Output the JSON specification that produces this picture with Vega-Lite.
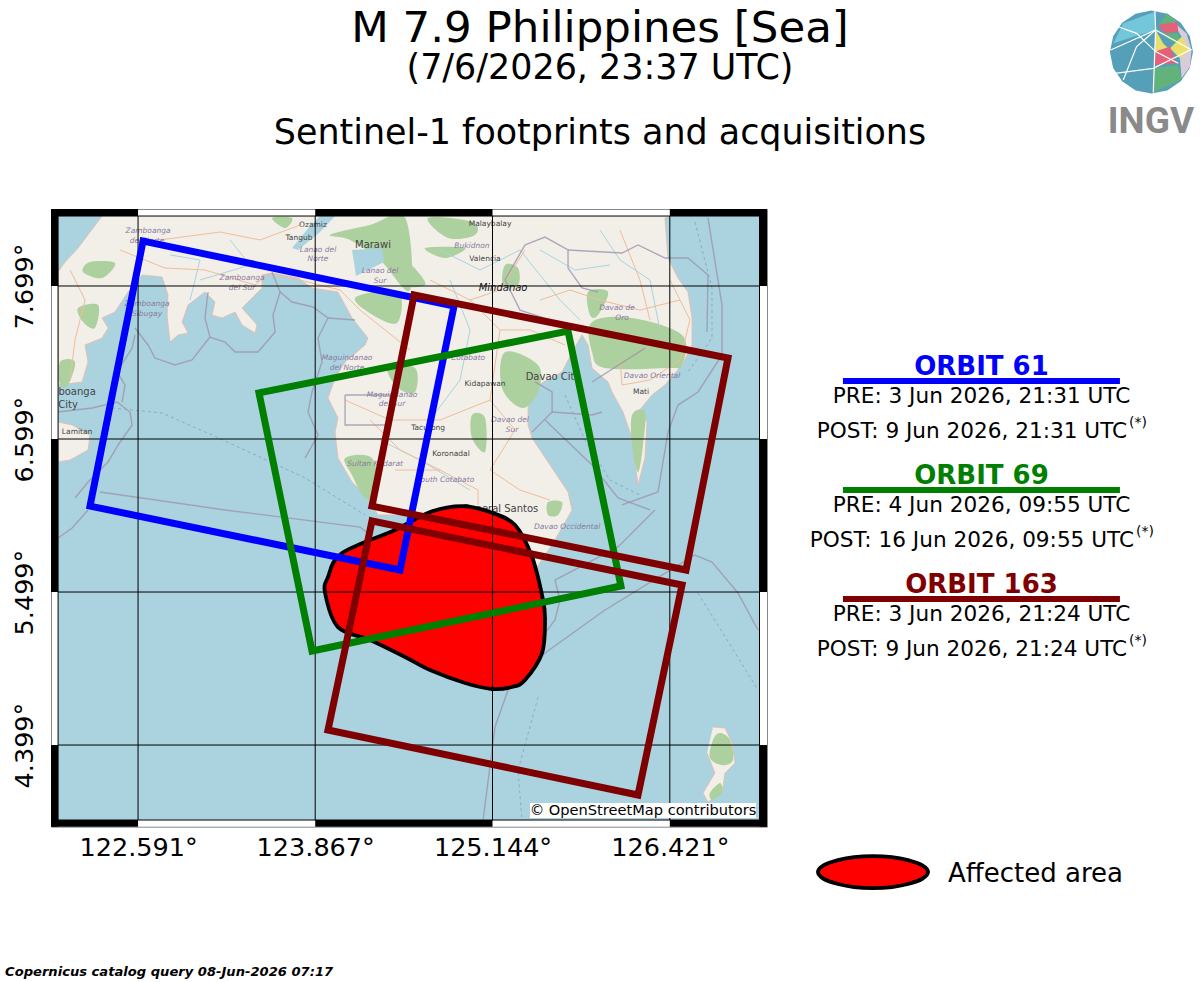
{
  "$schema": "https://vega.github.io/schema/vega-lite/v6.json",
  "autosize": {"type": "none"},
  "width": 716,
  "height": 617.7,
  "padding": {"left": 51, "top": 209, "right": 433, "bottom": 155.3},
  "background": "white",
  "view": {"stroke": "#888888", "strokeWidth": 1},
  "title": {
    "text": "M 7.9 Philippines [Sea]",
    "subtitle": ["(7/6/2026, 23:37 UTC)", "Sentinel-1 footprints and acquisitions"],
    "anchor": "middle",
    "frame": "group",
    "dx": 191,
    "offset": -144,
    "font": "DejaVu Sans",
    "fontSize": 43.5,
    "fontWeight": "normal",
    "color": "black",
    "subtitleFont": "DejaVu Sans",
    "subtitleFontSize": 34.9,
    "subtitleColor": "black",
    "subtitleLineHeight": 65,
    "subtitlePadding": 0
  },
  "datasets": {
    "sea": [{"lon": 122.015, "lon2": 127.067, "lat": 8.202, "lat2": 3.86}],
    "land": [
      {"g":"main","lon":122.332,"lat":8.202},{"g":"main","lon":122.159,"lat":7.972},{"g":"main","lon":122.065,"lat":7.872},{"g":"main","lon":122.015,"lat":7.8},{"g":"main","lon":122.015,"lat":6.987},{"g":"main","lon":122.188,"lat":7.009},{"g":"main","lon":122.231,"lat":7.153},{"g":"main","lon":122.209,"lat":7.275},{"g":"main","lon":122.332,"lat":7.325},{"g":"main","lon":122.375,"lat":7.397},{"g":"main","lon":122.332,"lat":7.469},{"g":"main","lon":122.425,"lat":7.512},{"g":"main","lon":122.519,"lat":7.656},{"g":"main","lon":122.62,"lat":7.778},{"g":"main","lon":122.764,"lat":7.764},{"g":"main","lon":122.807,"lat":7.634},{"g":"main","lon":122.8,"lat":7.49},{"g":"main","lon":122.821,"lat":7.296},{"g":"main","lon":122.879,"lat":7.347},{"g":"main","lon":122.951,"lat":7.361},{"g":"main","lon":122.908,"lat":7.44},{"g":"main","lon":122.951,"lat":7.562},{"g":"main","lon":123.073,"lat":7.656},{"g":"main","lon":123.145,"lat":7.584},{"g":"main","lon":123.124,"lat":7.49},{"g":"main","lon":123.196,"lat":7.469},{"g":"main","lon":123.29,"lat":7.512},{"g":"main","lon":123.34,"lat":7.419},{"g":"main","lon":123.434,"lat":7.361},{"g":"main","lon":123.448,"lat":7.419},{"g":"main","lon":123.34,"lat":7.541},{"g":"main","lon":123.484,"lat":7.685},{"g":"main","lon":123.484,"lat":7.778},{"g":"main","lon":123.556,"lat":7.792},{"g":"main","lon":123.743,"lat":7.756},{"g":"main","lon":123.844,"lat":7.685},{"g":"main","lon":124.031,"lat":7.656},{"g":"main","lon":124.132,"lat":7.469},{"g":"main","lon":124.247,"lat":7.325},{"g":"main","lon":124.226,"lat":7.275},{"g":"main","lon":124.082,"lat":7.153},{"g":"main","lon":124.01,"lat":7.038},{"g":"main","lon":123.959,"lat":6.894},{"g":"main","lon":124.031,"lat":6.75},{"g":"main","lon":124.01,"lat":6.649},{"g":"main","lon":124.031,"lat":6.462},{"g":"main","lon":124.132,"lat":6.29},{"g":"main","lon":124.247,"lat":6.175},{"g":"main","lon":124.319,"lat":6.053},{"g":"main","lon":124.694,"lat":6.053},{"g":"main","lon":124.982,"lat":6.089},{"g":"main","lon":125.198,"lat":5.945},{"g":"main","lon":125.342,"lat":5.765},{"g":"main","lon":125.465,"lat":5.679},{"g":"main","lon":125.594,"lat":5.873},{"g":"main","lon":125.717,"lat":6.089},{"g":"main","lon":125.688,"lat":6.218},{"g":"main","lon":125.544,"lat":6.434},{"g":"main","lon":125.429,"lat":6.606},{"g":"main","lon":125.4,"lat":6.7},{"g":"main","lon":125.4,"lat":6.843},{"g":"main","lon":125.472,"lat":6.987},{"g":"main","lon":125.645,"lat":7.081},{"g":"main","lon":125.717,"lat":7.224},{"g":"main","lon":125.789,"lat":7.347},{"g":"main","lon":125.832,"lat":7.275},{"g":"main","lon":125.861,"lat":7.109},{"g":"main","lon":125.976,"lat":7.009},{"g":"main","lon":126.005,"lat":6.937},{"g":"main","lon":126.084,"lat":6.793},{"g":"main","lon":126.149,"lat":6.606},{"g":"main","lon":126.192,"lat":6.268},{"g":"main","lon":126.242,"lat":6.462},{"g":"main","lon":126.257,"lat":6.721},{"g":"main","lon":126.192,"lat":6.793},{"g":"main","lon":126.293,"lat":6.915},{"g":"main","lon":126.386,"lat":6.987},{"g":"main","lon":126.509,"lat":7.131},{"g":"main","lon":126.581,"lat":7.275},{"g":"main","lon":126.581,"lat":7.469},{"g":"main","lon":126.552,"lat":7.656},{"g":"main","lon":126.48,"lat":7.756},{"g":"main","lon":126.408,"lat":7.9},{"g":"main","lon":126.386,"lat":8.188},{"g":"main","lon":126.437,"lat":8.202},
      {"g":"basilan","lon":122.015,"lat":6.721},{"g":"basilan","lon":122.116,"lat":6.7},{"g":"basilan","lon":122.245,"lat":6.628},{"g":"basilan","lon":122.231,"lat":6.52},{"g":"basilan","lon":122.101,"lat":6.448},{"g":"basilan","lon":122.015,"lat":6.434},
      {"g":"talaud","lon":126.732,"lat":4.529},{"g":"talaud","lon":126.819,"lat":4.521},{"g":"talaud","lon":126.869,"lat":4.414},{"g":"talaud","lon":126.891,"lat":4.27},{"g":"talaud","lon":126.819,"lat":4.198},{"g":"talaud","lon":126.797,"lat":4.054},{"g":"talaud","lon":126.696,"lat":3.989},{"g":"talaud","lon":126.66,"lat":4.054},{"g":"talaud","lon":126.746,"lat":4.198},{"g":"talaud","lon":126.689,"lat":4.342}
    ],
    "forest": [
      {"g":"f1","lon":122.245,"lat":7.872},{"g":"f1","lon":122.425,"lat":7.864},{"g":"f1","lon":122.332,"lat":7.756},{"g":"f1","lon":122.195,"lat":7.8},
      {"g":"f2","lon":122.159,"lat":7.541},{"g":"f2","lon":122.303,"lat":7.562},{"g":"f2","lon":122.281,"lat":7.397},{"g":"f2","lon":122.195,"lat":7.44},
      {"g":"f3","lon":122.029,"lat":7.153},{"g":"f3","lon":122.137,"lat":7.153},{"g":"f3","lon":122.087,"lat":6.987},{"g":"f3","lon":122.029,"lat":6.987},
      {"g":"f4","lon":123.974,"lat":8.066},{"g":"f4","lon":124.262,"lat":8.137},{"g":"f4","lon":124.514,"lat":8.19},{"g":"f4","lon":124.55,"lat":7.67},{"g":"f4","lon":124.334,"lat":7.886},{"g":"f4","lon":124.118,"lat":8.03},
      {"g":"f5","lon":124.154,"lat":7.613},{"g":"f5","lon":124.463,"lat":7.656},{"g":"f5","lon":124.463,"lat":7.44},{"g":"f5","lon":124.319,"lat":7.469},
      {"g":"f6","lon":123.556,"lat":8.188},{"g":"f6","lon":123.7,"lat":8.188},{"g":"f6","lon":123.65,"lat":8.116},
      {"g":"f7","lon":124.68,"lat":8.188},{"g":"f7","lon":124.996,"lat":8.159},{"g":"f7","lon":125.018,"lat":8.066},{"g":"f7","lon":124.824,"lat":8.044},
      {"g":"f8","lon":124.658,"lat":7.972},{"g":"f8","lon":124.946,"lat":7.972},{"g":"f8","lon":124.802,"lat":7.9},
      {"g":"f9","lon":124.514,"lat":7.872},{"g":"f9","lon":124.607,"lat":7.8},{"g":"f9","lon":124.658,"lat":7.706},{"g":"f9","lon":124.514,"lat":7.706},
      {"g":"f10","lon":125.234,"lat":7.85},{"g":"f10","lon":125.328,"lat":7.828},{"g":"f10","lon":125.328,"lat":7.706},{"g":"f10","lon":125.22,"lat":7.706},
      {"g":"f11","lon":125.832,"lat":7.656},{"g":"f11","lon":125.976,"lat":7.656},{"g":"f11","lon":125.904,"lat":7.49},{"g":"f11","lon":125.846,"lat":7.49},
      {"g":"f12","lon":125.861,"lat":7.44},{"g":"f12","lon":126.149,"lat":7.469},{"g":"f12","lon":126.509,"lat":7.347},{"g":"f12","lon":126.509,"lat":7.131},{"g":"f12","lon":126.408,"lat":7.109},{"g":"f12","lon":125.954,"lat":7.109},{"g":"f12","lon":125.861,"lat":7.224},
      {"g":"f13","lon":125.234,"lat":7.224},{"g":"f13","lon":125.472,"lat":7.131},{"g":"f13","lon":125.472,"lat":6.937},{"g":"f13","lon":125.356,"lat":6.822},{"g":"f13","lon":125.212,"lat":6.966},
      {"g":"f14","lon":126.149,"lat":6.772},{"g":"f14","lon":126.242,"lat":6.793},{"g":"f14","lon":126.228,"lat":6.556},{"g":"f14","lon":126.192,"lat":6.362},{"g":"f14","lon":126.149,"lat":6.556},
      {"g":"f15","lon":124.082,"lat":6.462},{"g":"f15","lon":124.276,"lat":6.462},{"g":"f15","lon":124.319,"lat":6.218},{"g":"f15","lon":124.226,"lat":6.175},{"g":"f15","lon":124.132,"lat":6.34},
      {"g":"f16","lon":124.996,"lat":6.772},{"g":"f16","lon":125.09,"lat":6.75},{"g":"f16","lon":125.09,"lat":6.506},{"g":"f16","lon":124.996,"lat":6.606},
      {"g":"f17","lon":125.544,"lat":6.146},{"g":"f17","lon":125.645,"lat":6.146},{"g":"f17","lon":125.616,"lat":6.053},{"g":"f17","lon":125.544,"lat":6.053},
      {"g":"f18","lon":124.391,"lat":7.109},{"g":"f18","lon":124.586,"lat":7.109},{"g":"f18","lon":124.586,"lat":6.937},{"g":"f18","lon":124.463,"lat":6.966},
      {"g":"f19","lon":126.782,"lat":4.485},{"g":"f19","lon":126.854,"lat":4.435},{"g":"f19","lon":126.876,"lat":4.291},{"g":"f19","lon":126.797,"lat":4.255},{"g":"f19","lon":126.71,"lat":4.306},{"g":"f19","lon":126.732,"lat":4.435},
      {"g":"f20","lon":126.782,"lat":4.126},{"g":"f20","lon":126.797,"lat":4.054},{"g":"f20","lon":126.725,"lat":4.004},{"g":"f20","lon":126.71,"lat":4.054}
    ],
    "water": [
      {"g":"lanao","lon":124.132,"lat":7.958},{"g":"lanao","lon":124.348,"lat":7.972},{"g":"lanao","lon":124.363,"lat":7.872},{"g":"lanao","lon":124.161,"lat":7.771},
      {"g":"panguil","lon":124.01,"lat":8.202},{"g":"panguil","lon":123.902,"lat":8.087},{"g":"panguil","lon":123.743,"lat":7.958},{"g":"panguil","lon":123.7,"lat":7.972},{"g":"panguil","lon":123.83,"lat":8.13},{"g":"panguil","lon":123.902,"lat":8.202}
    ],
    "river": [
      {"g":"r1","lon":124.838,"lat":7.742},{"g":"r1","lon":124.982,"lat":7.383},{"g":"r1","lon":124.91,"lat":7.023},{"g":"r1","lon":124.694,"lat":6.736},
      {"g":"r2","lon":125.486,"lat":7.958},{"g":"r2","lon":125.738,"lat":7.814},{"g":"r2","lon":125.99,"lat":7.85},
      {"g":"r3","lon":123.253,"lat":8.03},{"g":"r3","lon":123.398,"lat":7.85},{"g":"r3","lon":123.037,"lat":7.742},
      {"g":"r4","lon":124.766,"lat":7.958},{"g":"r4","lon":125.054,"lat":7.814},{"g":"r4","lon":125.342,"lat":7.958},{"g":"r4","lon":125.63,"lat":7.598},{"g":"r4","lon":125.774,"lat":7.455},
      {"g":"r5","lon":125.918,"lat":8.101},{"g":"r5","lon":126.062,"lat":7.886},{"g":"r5","lon":126.278,"lat":7.742},{"g":"r5","lon":126.35,"lat":7.383},
      {"g":"r6","lon":124.334,"lat":6.592},{"g":"r6","lon":124.622,"lat":6.448},{"g":"r6","lon":124.982,"lat":6.232},
      {"g":"r7","lon":122.821,"lat":7.922},{"g":"r7","lon":123.037,"lat":7.886},{"g":"r7","lon":122.966,"lat":7.598}
    ],
    "road": [
      {"g":"r1","lon":122.461,"lat":7.958},{"g":"r1","lon":122.785,"lat":7.828},{"g":"r1","lon":123.073,"lat":7.814},{"g":"r1","lon":123.434,"lat":7.706},{"g":"r1","lon":123.527,"lat":7.778},{"g":"r1","lon":123.758,"lat":7.742},{"g":"r1","lon":124.046,"lat":7.67},{"g":"r1","lon":124.19,"lat":7.526},{"g":"r1","lon":124.37,"lat":7.383},{"g":"r1","lon":124.55,"lat":7.239},
      {"g":"r2","lon":124.694,"lat":7.742},{"g":"r2","lon":124.982,"lat":7.598},{"g":"r2","lon":125.198,"lat":7.383},{"g":"r2","lon":125.414,"lat":7.383},{"g":"r2","lon":125.666,"lat":7.275},
      {"g":"r3","lon":125.198,"lat":7.383},{"g":"r3","lon":125.126,"lat":6.879},{"g":"r3","lon":125.306,"lat":6.664},{"g":"r3","lon":125.126,"lat":6.376},{"g":"r3","lon":125.342,"lat":6.232},{"g":"r3","lon":125.558,"lat":6.16},
      {"g":"r4","lon":124.082,"lat":6.879},{"g":"r4","lon":124.406,"lat":6.736},{"g":"r4","lon":124.766,"lat":6.736},{"g":"r4","lon":125.126,"lat":6.879},
      {"g":"r5","lon":124.442,"lat":6.376},{"g":"r5","lon":124.766,"lat":6.376},{"g":"r5","lon":125.04,"lat":6.232},{"g":"r5","lon":125.04,"lat":6.125},
      {"g":"r6","lon":122.101,"lat":7.814},{"g":"r6","lon":122.209,"lat":7.598},{"g":"r6","lon":122.137,"lat":7.311},{"g":"r6","lon":122.101,"lat":7.023},
      {"g":"r7","lon":122.749,"lat":8.03},{"g":"r7","lon":123.181,"lat":8.087},{"g":"r7","lon":123.47,"lat":8.03},{"g":"r7","lon":123.758,"lat":8.137},
      {"g":"r8","lon":126.062,"lat":7.167},{"g":"r8","lon":126.077,"lat":6.987},{"g":"r8","lon":126.278,"lat":7.023},{"g":"r8","lon":126.494,"lat":7.167},{"g":"r8","lon":126.566,"lat":7.455},{"g":"r8","lon":126.422,"lat":7.742},
      {"g":"r9","lon":125.378,"lat":7.958},{"g":"r9","lon":125.198,"lat":7.67},{"g":"r9","lon":124.982,"lat":7.598},
      {"g":"r10","lon":125.486,"lat":7.598},{"g":"r10","lon":125.702,"lat":7.67},{"g":"r10","lon":125.918,"lat":7.598},{"g":"r10","lon":126.206,"lat":7.526},{"g":"r10","lon":126.494,"lat":7.598},
      {"g":"r11","lon":124.262,"lat":6.736},{"g":"r11","lon":124.478,"lat":6.52},{"g":"r11","lon":124.766,"lat":6.376},
      {"g":"r12","lon":126.062,"lat":8.101},{"g":"r12","lon":126.206,"lat":7.742},{"g":"r12","lon":126.278,"lat":7.455}
    ],
    "boundary": [
      {"g":"b1","lon":122.317,"lat":6.218},{"g":"b1","lon":123.217,"lat":6.089},{"g":"b1","lon":124.19,"lat":5.966},{"g":"b1","lon":124.262,"lat":5.909},
      {"g":"b2","lon":122.569,"lat":7.397},{"g":"b2","lon":122.663,"lat":7.275},{"g":"b2","lon":122.713,"lat":7.181},{"g":"b2","lon":122.857,"lat":7.131},{"g":"b2","lon":122.98,"lat":7.167},{"g":"b2","lon":123.109,"lat":7.332},{"g":"b2","lon":123.073,"lat":7.469},{"g":"b2","lon":123.095,"lat":7.656},
      {"g":"b3","lon":123.109,"lat":7.332},{"g":"b3","lon":123.217,"lat":7.296},{"g":"b3","lon":123.29,"lat":7.224},{"g":"b3","lon":123.455,"lat":7.224},{"g":"b3","lon":123.578,"lat":7.368},{"g":"b3","lon":123.563,"lat":7.49},{"g":"b3","lon":123.614,"lat":7.656},{"g":"b3","lon":123.556,"lat":7.8},
      {"g":"b4","lon":123.614,"lat":7.656},{"g":"b4","lon":123.7,"lat":7.584},{"g":"b4","lon":123.851,"lat":7.548},{"g":"b4","lon":123.959,"lat":7.469},{"g":"b4","lon":123.887,"lat":7.325},{"g":"b4","lon":123.916,"lat":7.153},{"g":"b4","lon":123.844,"lat":6.937},{"g":"b4","lon":123.815,"lat":6.793},{"g":"b4","lon":123.887,"lat":6.628},{"g":"b4","lon":123.794,"lat":6.462},
      {"g":"b4b","lon":123.959,"lat":7.469},{"g":"b4b","lon":124.154,"lat":7.455},
      {"g":"b5","lon":122.015,"lat":6.793},{"g":"b5","lon":122.26,"lat":6.822},{"g":"b5","lon":122.44,"lat":6.865},{"g":"b5","lon":122.533,"lat":6.793},{"g":"b5","lon":122.548,"lat":6.7},{"g":"b5","lon":122.447,"lat":6.556},{"g":"b5","lon":122.375,"lat":6.434},{"g":"b5","lon":122.231,"lat":6.29},{"g":"b5","lon":122.137,"lat":6.175},
      {"g":"b6","lon":122.476,"lat":6.865},{"g":"b6","lon":122.497,"lat":6.987},{"g":"b6","lon":122.44,"lat":7.081},{"g":"b6","lon":122.548,"lat":7.253},{"g":"b6","lon":122.569,"lat":7.347},
      {"g":"b7","lon":122.231,"lat":6.089},{"g":"b7","lon":122.116,"lat":5.959},{"g":"b7","lon":122.015,"lat":5.887},
      {"g":"b8","lon":126.696,"lat":8.188},{"g":"b8","lon":126.797,"lat":7.562},{"g":"b8","lon":126.797,"lat":7.203},{"g":"b8","lon":126.624,"lat":6.937},{"g":"b8","lon":126.48,"lat":6.843},{"g":"b8","lon":126.408,"lat":6.649},{"g":"b8","lon":126.336,"lat":6.218},{"g":"b8","lon":126.077,"lat":6.125},
      {"g":"b9","lon":125.429,"lat":6.649},{"g":"b9","lon":125.573,"lat":6.793},{"g":"b9","lon":125.573,"lat":6.937},{"g":"b9","lon":125.45,"lat":7.009},
      {"g":"b10","lon":125.573,"lat":6.793},{"g":"b10","lon":125.861,"lat":6.772},{"g":"b10","lon":125.933,"lat":6.793},
      {"g":"b11","lon":125.522,"lat":6.736},{"g":"b11","lon":125.861,"lat":6.412},{"g":"b11","lon":126.048,"lat":6.175},{"g":"b11","lon":126.278,"lat":6.089},
      {"g":"b12","lon":126.314,"lat":6.089},{"g":"b12","lon":126.048,"lat":5.823},{"g":"b12","lon":125.594,"lat":5.585},{"g":"b12","lon":125.63,"lat":5.442},{"g":"b12","lon":125.594,"lat":5.298},{"g":"b12","lon":125.522,"lat":5.204},
      {"g":"b13","lon":126.509,"lat":5.708},{"g":"b13","lon":125.954,"lat":5.37},{"g":"b13","lon":125.522,"lat":5.061},{"g":"b13","lon":125.256,"lat":4.795},{"g":"b13","lon":125.162,"lat":4.529},{"g":"b13","lon":125.076,"lat":3.86},
      {"g":"b14","lon":126.509,"lat":5.708},{"g":"b14","lon":126.602,"lat":5.765},{"g":"b14","lon":126.725,"lat":5.715},{"g":"b14","lon":126.912,"lat":5.492},{"g":"b14","lon":127.056,"lat":5.226},
      {"g":"b15","lon":125.378,"lat":7.994},{"g":"b15","lon":125.522,"lat":8.051},{"g":"b15","lon":125.688,"lat":7.958},{"g":"b15","lon":125.688,"lat":7.828},{"g":"b15","lon":125.789,"lat":7.685},{"g":"b15","lon":125.904,"lat":7.656},
      {"g":"b16","lon":125.688,"lat":7.958},{"g":"b16","lon":126.077,"lat":7.936},{"g":"b16","lon":126.192,"lat":7.994},{"g":"b16","lon":126.386,"lat":7.9},{"g":"b16","lon":126.552,"lat":7.9},{"g":"b16","lon":126.696,"lat":7.778},{"g":"b16","lon":126.689,"lat":7.368},
      {"g":"b17","lon":125.378,"lat":7.994},{"g":"b17","lon":125.234,"lat":7.742},{"g":"b17","lon":125.342,"lat":7.526},{"g":"b17","lon":125.558,"lat":7.455},{"g":"b17","lon":125.738,"lat":7.419},
      {"g":"b18","lon":125.861,"lat":7.009},{"g":"b18","lon":126.242,"lat":7.253},
      {"g":"b19","lon":124.082,"lat":6.915},{"g":"b19","lon":124.406,"lat":6.915},{"g":"b19","lon":124.406,"lat":6.7},{"g":"b19","lon":124.082,"lat":6.7},{"g":"b19","lon":124.082,"lat":6.915}
    ],
    "dashed": [
      {"g":"d1","lon":122.404,"lat":6.822},{"g":"d1","lon":122.764,"lat":6.786},{"g":"d1","lon":123.124,"lat":6.628},{"g":"d1","lon":123.794,"lat":6.319},{"g":"d1","lon":124.226,"lat":6.053},
      {"g":"d2","lon":126.624,"lat":5.492},{"g":"d2","lon":127.056,"lat":4.795},
      {"g":"d3","lon":125.472,"lat":4.744},{"g":"d3","lon":125.328,"lat":4.219},{"g":"d3","lon":125.356,"lat":3.86},
      {"g":"d4","lon":126.602,"lat":8.159},{"g":"d4","lon":126.725,"lat":7.685},{"g":"d4","lon":126.725,"lat":7.325},{"g":"d4","lon":126.552,"lat":7.081},
      {"g":"d5","lon":125.666,"lat":6.915},{"g":"d5","lon":125.81,"lat":6.592},{"g":"d5","lon":125.99,"lat":6.304},{"g":"d5","lon":126.206,"lat":6.196}
    ],
    "labels": [
      {"kind":"admin","name":"Zamboanga","lon":122.663,"lat":8.094},{"kind":"admin","name":"del Norte","lon":122.656,"lat":8.022},
      {"kind":"place","name":"Ozamiz","lon":123.851,"lat":8.137},{"kind":"place","name":"Tangub","lon":123.75,"lat":8.044},
      {"kind":"admin","name":"Lanao del","lon":123.887,"lat":7.958},{"kind":"admin","name":"Norte","lon":123.887,"lat":7.893},
      {"kind":"city","name":"Marawi","lon":124.283,"lat":7.994},
      {"kind":"admin","name":"Lanao del","lon":124.334,"lat":7.807},{"kind":"admin","name":"Sur","lon":124.334,"lat":7.735},
      {"kind":"admin","name":"Zamboanga","lon":123.34,"lat":7.756},{"kind":"admin","name":"del Sur","lon":123.34,"lat":7.685},
      {"kind":"admin","name":"Zamboanga","lon":122.656,"lat":7.57},{"kind":"admin","name":"Sibugay","lon":122.656,"lat":7.498},
      {"kind":"city","name":"boanga","lon":122.152,"lat":6.937},{"kind":"city","name":"City","lon":122.087,"lat":6.843},
      {"kind":"place","name":"Lamitan","lon":122.152,"lat":6.649},
      {"kind":"admin","name":"Maguindanao","lon":124.096,"lat":7.181},{"kind":"admin","name":"del Norte","lon":124.096,"lat":7.109},
      {"kind":"admin","name":"Maguindanao","lon":124.42,"lat":6.915},{"kind":"admin","name":"del Sur","lon":124.42,"lat":6.851},
      {"kind":"admin","name":"Sultan Kudarat","lon":124.298,"lat":6.419},
      {"kind":"place","name":"Malaybalay","lon":125.126,"lat":8.145},{"kind":"admin","name":"Bukidnon","lon":124.996,"lat":7.986},{"kind":"place","name":"Valencia","lon":125.09,"lat":7.893},
      {"kind":"region","name":"Mindanao","lon":125.22,"lat":7.685},
      {"kind":"admin","name":"Davao de","lon":126.041,"lat":7.541},{"kind":"admin","name":"Oro","lon":126.077,"lat":7.469},
      {"kind":"admin","name":"Cotabato","lon":124.968,"lat":7.181},{"kind":"place","name":"Kidapawan","lon":125.09,"lat":6.994},
      {"kind":"city","name":"Davao City","lon":125.58,"lat":7.045},
      {"kind":"admin","name":"Davao Oriental","lon":126.293,"lat":7.052},{"kind":"place","name":"Mati","lon":126.214,"lat":6.937},
      {"kind":"admin","name":"Davao del","lon":125.27,"lat":6.736},{"kind":"admin","name":"Sur","lon":125.284,"lat":6.664},
      {"kind":"place","name":"Tacurong","lon":124.68,"lat":6.678},{"kind":"place","name":"Koronadal","lon":124.845,"lat":6.491},
      {"kind":"admin","name":"South Cotabato","lon":124.802,"lat":6.304},
      {"kind":"city","name":"General Santos","lon":125.198,"lat":6.096},
      {"kind":"admin","name":"Davao Occidental","lon":125.681,"lat":5.966}
    ],
    "affected": [
      {"g":"area","lon":124.924,"lat":6.117},{"g":"area","lon":125.126,"lat":6.074},{"g":"area","lon":125.306,"lat":5.981},{"g":"area","lon":125.429,"lat":5.751},{"g":"area","lon":125.508,"lat":5.442},{"g":"area","lon":125.522,"lat":5.298},{"g":"area","lon":125.501,"lat":5.061},{"g":"area","lon":125.378,"lat":4.866},{"g":"area","lon":125.284,"lat":4.816},{"g":"area","lon":125.14,"lat":4.802},{"g":"area","lon":124.946,"lat":4.845},{"g":"area","lon":124.694,"lat":4.938},{"g":"area","lon":124.514,"lat":5.032},{"g":"area","lon":124.262,"lat":5.154},{"g":"area","lon":124.031,"lat":5.247},{"g":"area","lon":123.938,"lat":5.492},{"g":"area","lon":123.959,"lat":5.607},{"g":"area","lon":124.06,"lat":5.779},{"g":"area","lon":124.442,"lat":5.945},{"g":"area","lon":124.694,"lat":6.074},
      {"g":"key","lon":128.281,"lat":3.486},{"g":"key","lon":128.237,"lat":3.436},{"g":"key","lon":128.136,"lat":3.4},{"g":"key","lon":128.021,"lat":3.378},{"g":"key","lon":127.884,"lat":3.371},{"g":"key","lon":127.748,"lat":3.378},{"g":"key","lon":127.632,"lat":3.4},{"g":"key","lon":127.531,"lat":3.436},{"g":"key","lon":127.488,"lat":3.486},{"g":"key","lon":127.531,"lat":3.536},{"g":"key","lon":127.632,"lat":3.572},{"g":"key","lon":127.748,"lat":3.594},{"g":"key","lon":127.884,"lat":3.601},{"g":"key","lon":128.021,"lat":3.594},{"g":"key","lon":128.136,"lat":3.572},{"g":"key","lon":128.237,"lat":3.536}
    ],
    "grid_lon": [
      {"lon":122.591,"lat":8.202,"lat2":3.86},{"lon":123.867,"lat":8.202,"lat2":3.86},{"lon":125.144,"lat":8.202,"lat2":3.86},{"lon":126.421,"lat":8.202,"lat2":3.86}
    ],
    "grid_lat": [
      {"lat":7.699,"lon":122.015,"lon2":127.067},{"lat":6.599,"lon":122.015,"lon2":127.067},{"lat":5.499,"lon":122.015,"lon2":127.067},{"lat":4.399,"lon":122.015,"lon2":127.067}
    ],
    "footprints": [
      {"frame":"61","orbit":"ORBIT 61","lon":122.627,"lat":8.022},{"frame":"61","orbit":"ORBIT 61","lon":124.867,"lat":7.555},{"frame":"61","orbit":"ORBIT 61","lon":124.478,"lat":5.657},{"frame":"61","orbit":"ORBIT 61","lon":122.245,"lat":6.117},{"frame":"61","orbit":"ORBIT 61","lon":122.627,"lat":8.022},
      {"frame":"69","orbit":"ORBIT 69","lon":123.462,"lat":6.93},{"frame":"69","orbit":"ORBIT 69","lon":125.688,"lat":7.375},{"frame":"69","orbit":"ORBIT 69","lon":126.069,"lat":5.542},{"frame":"69","orbit":"ORBIT 69","lon":123.844,"lat":5.075},{"frame":"69","orbit":"ORBIT 69","lon":123.462,"lat":6.93},
      {"frame":"163a","orbit":"ORBIT 163","lon":124.579,"lat":7.634},{"frame":"163a","orbit":"ORBIT 163","lon":126.84,"lat":7.181},{"frame":"163a","orbit":"ORBIT 163","lon":126.538,"lat":5.657},{"frame":"163a","orbit":"ORBIT 163","lon":124.276,"lat":6.117},{"frame":"163a","orbit":"ORBIT 163","lon":124.579,"lat":7.634},
      {"frame":"163b","orbit":"ORBIT 163","lon":124.276,"lat":6.01},{"frame":"163b","orbit":"ORBIT 163","lon":126.509,"lat":5.549},{"frame":"163b","orbit":"ORBIT 163","lon":126.192,"lat":4.04},{"frame":"163b","orbit":"ORBIT 163","lon":123.959,"lat":4.507},{"frame":"163b","orbit":"ORBIT 163","lon":124.276,"lat":6.01}
    ],
    "frame": [
      {"lon":121.964,"lon2":122.591,"lat":8.2525,"lat2":8.202},{"lon":123.867,"lon2":125.144,"lat":8.2525,"lat2":8.202},{"lon":126.421,"lon2":127.121,"lat":8.2525,"lat2":8.202},
      {"lon":121.964,"lon2":122.591,"lat":3.86,"lat2":3.812},{"lon":123.867,"lon2":125.144,"lat":3.86,"lat2":3.812},{"lon":126.421,"lon2":127.121,"lat":3.86,"lat2":3.812},
      {"lon":121.964,"lon2":122.015,"lat":8.2525,"lat2":7.699},{"lon":121.964,"lon2":122.015,"lat":6.599,"lat2":5.499},{"lon":121.964,"lon2":122.015,"lat":4.399,"lat2":3.812},
      {"lon":127.067,"lon2":127.121,"lat":8.2525,"lat2":7.699},{"lon":127.067,"lon2":127.121,"lat":6.599,"lat2":5.499},{"lon":127.067,"lon2":127.121,"lat":4.399,"lat2":3.812}
    ],
    "credit_box": [{"lon":125.414,"lon2":127.042,"lat":3.982,"lat2":3.874}],
    "orbit_rules": [
      {"orbit":"ORBIT 61","lon":127.668,"lon2":129.663,"lat":7.016},
      {"orbit":"ORBIT 69","lon":127.668,"lon2":129.663,"lat":6.232},
      {"orbit":"ORBIT 163","lon":127.668,"lon2":129.663,"lat":5.449}
    ],
    "orbit_heads": [
      {"orbit":"ORBIT 61","lon":128.666,"lat":7.119},
      {"orbit":"ORBIT 69","lon":128.666,"lat":6.335},
      {"orbit":"ORBIT 163","lon":128.666,"lat":5.552}
    ],
    "orbit_dates": [
      {"line":"PRE: 3 Jun 2026, 21:31 UTC","lon":128.666,"lat":6.901},
      {"line":"POST: 9 Jun 2026, 21:31 UTC","lon":128.597,"lat":6.65},
      {"line":"PRE: 4 Jun 2026, 09:55 UTC","lon":128.666,"lat":6.118},
      {"line":"POST: 16 Jun 2026, 09:55 UTC","lon":128.597,"lat":5.866},
      {"line":"PRE: 3 Jun 2026, 21:24 UTC","lon":128.666,"lat":5.334},
      {"line":"POST: 9 Jun 2026, 21:24 UTC","lon":128.597,"lat":5.082}
    ],
    "stars": [
      {"mark":"(*)","lon":129.793,"lat":6.714},
      {"mark":"(*)","lon":129.843,"lat":5.93},
      {"mark":"(*)","lon":129.793,"lat":5.147}
    ],
    "logo": [
      {"g":"disc","tone":"teal","lon":130.189,"lat":9.381},{"g":"disc","tone":"teal","lon":130.166,"lat":9.495},{"g":"disc","tone":"teal","lon":130.101,"lat":9.592},{"g":"disc","tone":"teal","lon":130.004,"lat":9.657},{"g":"disc","tone":"teal","lon":129.89,"lat":9.68},{"g":"disc","tone":"teal","lon":129.776,"lat":9.657},{"g":"disc","tone":"teal","lon":129.679,"lat":9.592},{"g":"disc","tone":"teal","lon":129.614,"lat":9.495},{"g":"disc","tone":"teal","lon":129.591,"lat":9.381},{"g":"disc","tone":"teal","lon":129.614,"lat":9.267},{"g":"disc","tone":"teal","lon":129.679,"lat":9.17},{"g":"disc","tone":"teal","lon":129.776,"lat":9.105},{"g":"disc","tone":"teal","lon":129.89,"lat":9.082},{"g":"disc","tone":"teal","lon":130.004,"lat":9.105},{"g":"disc","tone":"teal","lon":130.101,"lat":9.17},{"g":"disc","tone":"teal","lon":130.166,"lat":9.267},
      {"g":"light","tone":"light","lon":129.615,"lat":9.443},{"g":"light","tone":"light","lon":129.687,"lat":9.587},{"g":"light","tone":"light","lon":129.915,"lat":9.671},{"g":"light","tone":"light","lon":129.92,"lat":9.539},{"g":"light","tone":"light","lon":129.759,"lat":9.491},
      {"g":"lilac","tone":"lilac","lon":130.035,"lat":9.611},{"g":"lilac","tone":"lilac","lon":130.143,"lat":9.515},{"g":"lilac","tone":"lilac","lon":130.179,"lat":9.396},{"g":"lilac","tone":"lilac","lon":130.167,"lat":9.276},{"g":"lilac","tone":"lilac","lon":130.107,"lat":9.192},{"g":"lilac","tone":"lilac","lon":130.095,"lat":9.336},{"g":"lilac","tone":"lilac","lon":130.107,"lat":9.491},
      {"g":"greenT","tone":"green","lon":129.939,"lat":9.575},{"g":"greenT","tone":"green","lon":130.004,"lat":9.659},{"g":"greenT","tone":"green","lon":130.071,"lat":9.599},
      {"g":"redT","tone":"red","lon":129.939,"lat":9.575},{"g":"redT","tone":"red","lon":130.076,"lat":9.599},{"g":"redT","tone":"red","lon":130.083,"lat":9.527},{"g":"redT","tone":"red","lon":129.987,"lat":9.515},
      {"g":"greenM","tone":"green","lon":129.963,"lat":9.515},{"g":"greenM","tone":"green","lon":130.083,"lat":9.515},{"g":"greenM","tone":"green","lon":130.095,"lat":9.455},{"g":"greenM","tone":"green","lon":130.035,"lat":9.455},
      {"g":"yellow1","tone":"yellow","lon":129.92,"lat":9.539},{"g":"yellow1","tone":"yellow","lon":129.975,"lat":9.443},{"g":"yellow1","tone":"yellow","lon":130.011,"lat":9.408},{"g":"yellow1","tone":"yellow","lon":129.915,"lat":9.384},
      {"g":"yellow2","tone":"yellow","lon":130.023,"lat":9.408},{"g":"yellow2","tone":"yellow","lon":130.107,"lat":9.491},{"g":"yellow2","tone":"yellow","lon":130.167,"lat":9.396},{"g":"yellow2","tone":"yellow","lon":130.095,"lat":9.336},
      {"g":"redC","tone":"red","lon":129.92,"lat":9.384},{"g":"redC","tone":"red","lon":130.023,"lat":9.42},{"g":"redC","tone":"red","lon":130.071,"lat":9.3},{"g":"redC","tone":"red","lon":129.915,"lat":9.288},
      {"g":"greenB","tone":"green","lon":129.903,"lat":9.264},{"g":"greenB","tone":"green","lon":130.083,"lat":9.288},{"g":"greenB","tone":"green","lon":130.107,"lat":9.18},{"g":"greenB","tone":"green","lon":129.903,"lat":9.091}
    ],
    "logo_lines": [
      {"g":"l1","lon":129.915,"lat":9.678},{"g":"l1","lon":129.92,"lat":9.539},{"g":"l1","lon":129.903,"lat":9.091},
      {"g":"l2","lon":129.596,"lat":9.396},{"g":"l2","lon":129.92,"lat":9.539},{"g":"l2","lon":130.179,"lat":9.396},
      {"g":"l3","lon":129.651,"lat":9.563},{"g":"l3","lon":129.783,"lat":9.515},{"g":"l3","lon":129.92,"lat":9.384},{"g":"l3","lon":130.083,"lat":9.3},
      {"g":"l4","lon":129.627,"lat":9.228},{"g":"l4","lon":129.903,"lat":9.264},{"g":"l4","lon":130.167,"lat":9.396},
      {"g":"l5","lon":129.687,"lat":9.18},{"g":"l5","lon":129.783,"lat":9.42},{"g":"l5","lon":129.92,"lat":9.539}
    ]
  },
  "encoding": {
    "x": {
      "field": "lon",
      "type": "quantitative",
      "scale": {"domain": [121.964, 127.121], "nice": false, "zero": false},
      "axis": {
        "title": null,
        "grid": false,
        "domain": false,
        "ticks": false,
        "values": [122.591, 123.867, 125.144, 126.421],
        "labelExpr": "format(datum.value, '.3f') + '°'",
        "labelFont": "DejaVu Sans",
        "labelFontSize": 25.5,
        "labelColor": "black",
        "labelPadding": 9,
        "labelOverlap": false,
        "labelFlush": false
      }
    },
    "y": {
      "field": "lat",
      "type": "quantitative",
      "scale": {"domain": [3.812, 8.2525], "nice": false, "zero": false},
      "axis": {
        "title": null,
        "grid": false,
        "domain": false,
        "ticks": false,
        "values": [7.699, 6.599, 5.499, 4.399],
        "labelExpr": "format(datum.value, '.3f') + '°'",
        "labelFont": "DejaVu Sans",
        "labelFontSize": 25.5,
        "labelColor": "black",
        "labelAngle": -90,
        "labelAlign": "center",
        "labelBaseline": "bottom",
        "labelPadding": 14,
        "labelOverlap": false,
        "labelFlush": false
      }
    }
  },
  "layer": [
    {"data": {"name": "sea"}, "mark": {"type": "rect", "fill": "#aad3df"}, "encoding": {"x2": {"field": "lon2"}, "y2": {"field": "lat2"}}},
    {"data": {"name": "land"}, "mark": {"type": "line", "fill": "#f2efe9", "stroke": "#e9b8a8", "strokeWidth": 0.8}, "encoding": {"detail": {"field": "g"}, "order": {"value": null}}},
    {"data": {"name": "forest"}, "mark": {"type": "line", "fill": "#add19e", "stroke": null, "interpolate": "cardinal-closed"}, "encoding": {"detail": {"field": "g"}, "order": {"value": null}}},
    {"data": {"name": "water"}, "mark": {"type": "line", "fill": "#aad3df", "stroke": null}, "encoding": {"detail": {"field": "g"}, "order": {"value": null}}},
    {"data": {"name": "river"}, "mark": {"type": "line", "stroke": "#aad3df", "strokeWidth": 1}, "encoding": {"detail": {"field": "g"}, "order": {"value": null}}},
    {"data": {"name": "road"}, "mark": {"type": "line", "stroke": "#f0bc9a", "strokeWidth": 1}, "encoding": {"detail": {"field": "g"}, "order": {"value": null}}},
    {"data": {"name": "boundary"}, "mark": {"type": "line", "stroke": "#9d93ad", "strokeWidth": 1.4, "opacity": 0.8}, "encoding": {"detail": {"field": "g"}, "order": {"value": null}}},
    {"data": {"name": "dashed"}, "mark": {"type": "line", "stroke": "#8aa9cc", "strokeWidth": 1, "strokeDash": [3, 3]}, "encoding": {"detail": {"field": "g"}, "order": {"value": null}}},
    {"data": {"name": "labels"}, "transform": [{"filter": "datum.kind === 'admin'"}], "mark": {"type": "text", "font": "DejaVu Sans", "fontSize": 7.5, "fontStyle": "italic", "color": "#8b7a9f"}, "encoding": {"text": {"field": "name"}}},
    {"data": {"name": "labels"}, "transform": [{"filter": "datum.kind === 'place'"}], "mark": {"type": "text", "font": "DejaVu Sans", "fontSize": 7.5, "color": "#444444"}, "encoding": {"text": {"field": "name"}}},
    {"data": {"name": "labels"}, "transform": [{"filter": "datum.kind === 'city'"}], "mark": {"type": "text", "font": "DejaVu Sans", "fontSize": 10, "color": "#444444"}, "encoding": {"text": {"field": "name"}}},
    {"data": {"name": "labels"}, "transform": [{"filter": "datum.kind === 'region'"}], "mark": {"type": "text", "font": "DejaVu Sans", "fontSize": 10, "fontStyle": "italic", "color": "#222222"}, "encoding": {"text": {"field": "name"}}},
    {"data": {"name": "affected"}, "mark": {"type": "line", "fill": "#ff0000", "stroke": "black", "strokeWidth": 3.8, "interpolate": "cardinal-closed"}, "encoding": {"detail": {"field": "g"}, "order": {"value": null}}},
    {"data": {"name": "grid_lon"}, "mark": {"type": "rule", "color": "black", "strokeWidth": 1}, "encoding": {"y2": {"field": "lat2"}}},
    {"data": {"name": "grid_lat"}, "mark": {"type": "rule", "color": "black", "strokeWidth": 1}, "encoding": {"x2": {"field": "lon2"}}},
    {
      "data": {"name": "footprints"},
      "mark": {"type": "line", "strokeWidth": 7, "strokeCap": "square", "strokeJoin": "miter"},
      "encoding": {
        "color": {
          "field": "orbit",
          "type": "nominal",
          "legend": null,
          "scale": {
            "domain": ["ORBIT 61", "ORBIT 69", "ORBIT 163", "teal", "light", "lilac", "green", "red", "yellow"],
            "range": ["#0000ff", "#007f00", "#7f0000", "#559fb9", "#74c6da", "#d9ccd8", "#62b27c", "#e5607a", "#e8df6c"]
          }
        },
        "detail": {"field": "frame"},
        "order": {"value": null}
      }
    },
    {"data": {"name": "frame"}, "mark": {"type": "rect", "fill": "black"}, "encoding": {"x2": {"field": "lon2"}, "y2": {"field": "lat2"}}},
    {"data": {"name": "sea"}, "mark": {"type": "rect", "fill": null, "stroke": "black", "strokeWidth": 1}, "encoding": {"x2": {"field": "lon2"}, "y2": {"field": "lat2"}}},
    {"data": {"name": "credit_box"}, "mark": {"type": "rect", "fill": "white"}, "encoding": {"x2": {"field": "lon2"}, "y2": {"field": "lat2"}}},
    {"data": {"values": [{"note": "© OpenStreetMap contributors", "lon": 126.228, "lat": 3.925}]}, "mark": {"type": "text", "font": "DejaVu Sans", "fontSize": 14.6, "color": "black"}, "encoding": {"text": {"field": "note"}}},
    {"data": {"name": "orbit_rules"}, "mark": {"type": "rule", "strokeWidth": 6}, "encoding": {"x2": {"field": "lon2"}, "color": {"field": "orbit", "type": "nominal", "legend": null}}},
    {"data": {"name": "orbit_heads"}, "mark": {"type": "text", "font": "DejaVu Sans", "fontSize": 26, "fontWeight": "bold"}, "encoding": {"text": {"field": "orbit"}, "color": {"field": "orbit", "type": "nominal", "legend": null}}},
    {"data": {"name": "orbit_dates"}, "mark": {"type": "text", "font": "DejaVu Sans", "fontSize": 21.6, "color": "black"}, "encoding": {"text": {"field": "line"}}},
    {"data": {"name": "stars"}, "mark": {"type": "text", "font": "DejaVu Sans", "fontSize": 14, "color": "black"}, "encoding": {"text": {"field": "mark"}}},
    {"data": {"values": [{"note": "Affected area", "lon": 128.425, "lat": 3.472}]}, "mark": {"type": "text", "align": "left", "font": "DejaVu Sans", "fontSize": 26, "color": "black"}, "encoding": {"text": {"field": "note"}}},
    {"data": {"values": [{"note": "Copernicus catalog query 08-Jun-2026 07:17", "lon": 121.633, "lat": 2.767}]}, "mark": {"type": "text", "align": "left", "font": "DejaVu Sans", "fontSize": 13.1, "fontWeight": "bold", "fontStyle": "italic", "color": "black"}, "encoding": {"text": {"field": "note"}}},
    {"data": {"name": "logo"}, "mark": {"type": "line", "filled": true, "stroke": null}, "encoding": {"color": {"field": "tone", "type": "nominal", "legend": null}, "detail": {"field": "g"}, "order": {"value": null}}},
    {"data": {"name": "logo_lines"}, "mark": {"type": "line", "stroke": "white", "strokeWidth": 1.2}, "encoding": {"detail": {"field": "g"}, "order": {"value": null}}},
    {"data": {"values": [{"note": "INGV", "lon": 129.886, "lat": 8.878}]}, "mark": {"type": "text", "font": "Roboto", "fontSize": 37, "fontWeight": "bold", "color": "#8a8a8a"}, "encoding": {"text": {"field": "note"}}}
  ]
}
